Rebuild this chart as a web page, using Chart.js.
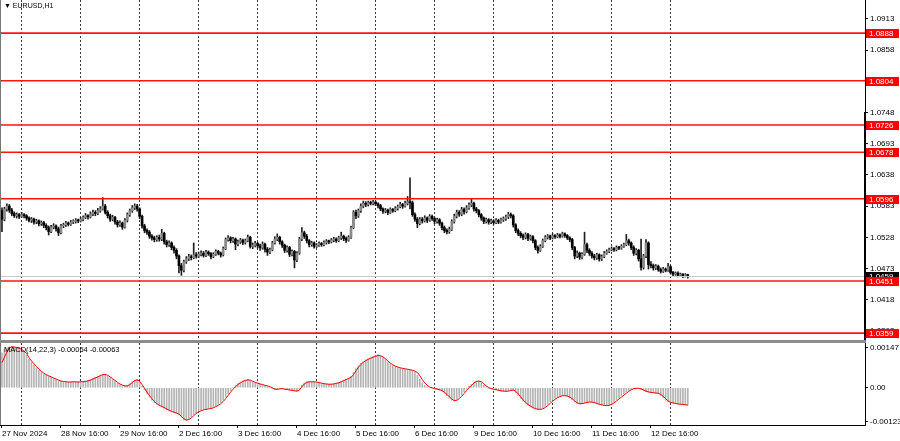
<!DOCTYPE html>
<html>
<head>
<meta charset="utf-8">
<title>EURUSD,H1</title>
<script src="https://cdn.jsdelivr.net/npm/chart.js@4.4.1/dist/chart.umd.min.js"></script>
<style>
  html, body { margin: 0; padding: 0; background: #fff; width: 900px; height: 441px; overflow: hidden; }
  #wrap { position: relative; width: 900px; height: 441px; }
  #mainChart { position: absolute; left: 0; top: 0; }
  #macdChart { position: absolute; left: 0; top: 343px; }
  #sep { position: absolute; left: 0; top: 340px; width: 866px; height: 3px; background: #8c8c8c; }
  .txt { position: absolute; font-family: 'Liberation Sans', Arial, sans-serif; color: #000; white-space: nowrap; }
  #title { left: 4px; top: 2px; font-size: 7px; }
  #macdTitle { left: 4px; top: 345px; font-size: 7.5px; }
</style>
</head>
<body>
<div id="wrap">
  <canvas id="mainChart" width="900" height="340"></canvas>
  <div id="sep"></div>
  <canvas id="macdChart" width="900" height="98"></canvas>
  <div id="title" class="txt">&#9660; EURUSD,H1</div>
  <div id="macdTitle" class="txt">MACD(14,22,3) -0.00064 -0.00063</div>
</div>
<script>
// EURUSD H1, 27 Nov 2024 - 12 Dec 2024 (280 bars)
const firstOpen = 1.0575;

const closes = [
  1.0560, 1.0578, 1.0583, 1.0576, 1.0570, 1.0566, 1.0568, 1.0565, 1.0568, 1.0566,
  1.0562, 1.0558, 1.0560, 1.0555, 1.0557, 1.0552, 1.0554, 1.0549, 1.0545, 1.0538,
  1.0546, 1.0548, 1.0543, 1.0536, 1.0548, 1.0550, 1.0553, 1.0551, 1.0555, 1.0556,
  1.0558, 1.0557, 1.0560, 1.0563, 1.0566, 1.0564, 1.0569, 1.0572, 1.0570, 1.0575,
  1.0578, 1.0583, 1.0572, 1.0566, 1.0560, 1.0563, 1.0555, 1.0550, 1.0553, 1.0546,
  1.0558, 1.0568, 1.0575, 1.0580, 1.0583, 1.0578, 1.0565, 1.0548, 1.0540, 1.0537,
  1.0530, 1.0527, 1.0524, 1.0528, 1.0525, 1.0535, 1.0520, 1.0515, 1.0518, 1.0510,
  1.0505, 1.0495, 1.0478, 1.0470, 1.0485, 1.0490, 1.0494, 1.0492, 1.0497, 1.0495,
  1.0498, 1.0500, 1.0496, 1.0502, 1.0499, 1.0494, 1.0498, 1.0503, 1.0500, 1.0497,
  1.0508, 1.0524, 1.0527, 1.0522, 1.0525, 1.0516, 1.0520, 1.0523, 1.0519, 1.0522,
  1.0528, 1.0512, 1.0514, 1.0517, 1.0513, 1.0510, 1.0516, 1.0507, 1.0502, 1.0506,
  1.0518, 1.0525, 1.0528, 1.0520, 1.0514, 1.0505, 1.0510, 1.0498, 1.0503, 1.0488,
  1.0500, 1.0525, 1.0536, 1.0530, 1.0522, 1.0515, 1.0518, 1.0512, 1.0514, 1.0517,
  1.0515, 1.0519, 1.0521, 1.0520, 1.0523, 1.0525, 1.0522, 1.0527, 1.0530, 1.0526,
  1.0523, 1.0528, 1.0545, 1.0572, 1.0566, 1.0575, 1.0583, 1.0588, 1.0586, 1.0589,
  1.0588, 1.0590, 1.0587, 1.0584, 1.0578, 1.0574, 1.0576, 1.0572, 1.0577, 1.0575,
  1.0579, 1.0582, 1.0586, 1.0583, 1.0588, 1.0591, 1.0589, 1.0568, 1.0560, 1.0552,
  1.0560, 1.0557, 1.0562, 1.0558, 1.0565, 1.0561, 1.0556, 1.0559, 1.0553, 1.0545,
  1.0540, 1.0538, 1.0542, 1.0556, 1.0565, 1.0572, 1.0569, 1.0577, 1.0573, 1.0580,
  1.0585, 1.0588, 1.0578, 1.0575, 1.0568, 1.0562, 1.0556, 1.0559, 1.0555, 1.0557,
  1.0554, 1.0558, 1.0555, 1.0559, 1.0561, 1.0564, 1.0568, 1.0566, 1.0550, 1.0540,
  1.0535, 1.0531, 1.0528, 1.0533, 1.0526, 1.0529, 1.0522, 1.0510, 1.0505, 1.0512,
  1.0522, 1.0528, 1.0530, 1.0527, 1.0531, 1.0529, 1.0532, 1.0530, 1.0534, 1.0531,
  1.0527, 1.0524, 1.0510, 1.0495, 1.0500, 1.0493, 1.0498, 1.0515, 1.0505, 1.0500,
  1.0495, 1.0492, 1.0497, 1.0490, 1.0494, 1.0500, 1.0503, 1.0506, 1.0508, 1.0506,
  1.0510, 1.0509, 1.0512, 1.0515, 1.0522, 1.0518, 1.0510, 1.0500, 1.0505, 1.0490,
  1.0475, 1.0495, 1.0518, 1.0480, 1.0478, 1.0474, 1.0477, 1.0471, 1.0468, 1.0472,
  1.0470, 1.0476, 1.0466, 1.0463, 1.0465, 1.0461, 1.0463, 1.0460, 1.0462, 1.0459
];

const highs = [
  1.0580, 1.0581, 1.0587, 1.0586, 1.0579, 1.0573, 1.0571, 1.0570, 1.0572, 1.0570,
  1.0568, 1.0564, 1.0563, 1.0562, 1.0560, 1.0559, 1.0557, 1.0556, 1.0552, 1.0548,
  1.0549, 1.0552, 1.0550, 1.0546, 1.0551, 1.0553, 1.0556, 1.0555, 1.0558, 1.0559,
  1.0561, 1.0560, 1.0563, 1.0566, 1.0570, 1.0568, 1.0573, 1.0576, 1.0575, 1.0579,
  1.0582, 1.0598, 1.0586, 1.0575, 1.0569, 1.0567, 1.0565, 1.0558, 1.0557, 1.0555,
  1.0561, 1.0571, 1.0578, 1.0584, 1.0587, 1.0586, 1.0580, 1.0567, 1.0551, 1.0543,
  1.0540, 1.0533, 1.0530, 1.0531, 1.0532, 1.0542, 1.0537, 1.0523, 1.0522, 1.0520,
  1.0513, 1.0508, 1.0497, 1.0482, 1.0488, 1.0494, 1.0498, 1.0497, 1.0518, 1.0501,
  1.0502, 1.0504, 1.0503, 1.0505, 1.0504, 1.0501, 1.0501, 1.0506, 1.0505, 1.0502,
  1.0511, 1.0527, 1.0531, 1.0529, 1.0528, 1.0527, 1.0523, 1.0526, 1.0525, 1.0525,
  1.0532, 1.0530, 1.0518, 1.0521, 1.0519, 1.0516, 1.0520, 1.0518, 1.0510, 1.0509,
  1.0521, 1.0529, 1.0534, 1.0530, 1.0522, 1.0516, 1.0513, 1.0512, 1.0506, 1.0505,
  1.0503, 1.0528, 1.0545, 1.0539, 1.0533, 1.0524, 1.0521, 1.0520, 1.0517, 1.0520,
  1.0519, 1.0522, 1.0524, 1.0523, 1.0526, 1.0528, 1.0527, 1.0530, 1.0537, 1.0532,
  1.0529, 1.0531, 1.0548, 1.0575, 1.0576, 1.0578, 1.0587, 1.0592, 1.0591, 1.0592,
  1.0592, 1.0593, 1.0592, 1.0589, 1.0586, 1.0580, 1.0579, 1.0578, 1.0580, 1.0579,
  1.0582, 1.0585, 1.0590, 1.0588, 1.0592, 1.0600, 1.0633, 1.0592, 1.0571, 1.0563,
  1.0563, 1.0563, 1.0566, 1.0564, 1.0568, 1.0567, 1.0563, 1.0562, 1.0561, 1.0555,
  1.0548, 1.0543, 1.0546, 1.0559, 1.0569, 1.0576, 1.0575, 1.0581, 1.0580, 1.0584,
  1.0589, 1.0596, 1.0590, 1.0581, 1.0577, 1.0570, 1.0564, 1.0562, 1.0561, 1.0560,
  1.0559, 1.0561, 1.0560, 1.0562, 1.0564, 1.0567, 1.0572, 1.0571, 1.0568, 1.0552,
  1.0543, 1.0538, 1.0534, 1.0536, 1.0535, 1.0532, 1.0531, 1.0524, 1.0513, 1.0515,
  1.0525, 1.0531, 1.0533, 1.0532, 1.0534, 1.0533, 1.0535, 1.0534, 1.0537, 1.0536,
  1.0533, 1.0529, 1.0526, 1.0512, 1.0504, 1.0502, 1.0501, 1.0537, 1.0518, 1.0508,
  1.0503, 1.0498, 1.0500, 1.0499, 1.0497, 1.0503, 1.0506, 1.0509, 1.0511, 1.0510,
  1.0513, 1.0512, 1.0515, 1.0518, 1.0533, 1.0525, 1.0520, 1.0513, 1.0508, 1.0507,
  1.0525, 1.0498, 1.0524, 1.0520, 1.0485, 1.0481, 1.0480, 1.0479, 1.0474, 1.0475,
  1.0474, 1.0482, 1.0478, 1.0468, 1.0467, 1.0467, 1.0465, 1.0464, 1.0464, 1.0463
];

const lows = [
  1.0538, 1.0557, 1.0574, 1.0572, 1.0566, 1.0563, 1.0562, 1.0561, 1.0563, 1.0562,
  1.0558, 1.0555, 1.0554, 1.0551, 1.0552, 1.0548, 1.0549, 1.0545, 1.0541, 1.0532,
  1.0536, 1.0543, 1.0539, 1.0531, 1.0534, 1.0545, 1.0547, 1.0548, 1.0549, 1.0552,
  1.0553, 1.0554, 1.0555, 1.0557, 1.0561, 1.0560, 1.0562, 1.0566, 1.0566, 1.0568,
  1.0572, 1.0576, 1.0569, 1.0562, 1.0556, 1.0557, 1.0551, 1.0546, 1.0547, 1.0542,
  1.0544, 1.0555, 1.0565, 1.0572, 1.0577, 1.0574, 1.0561, 1.0544, 1.0536, 1.0533,
  1.0526, 1.0523, 1.0520, 1.0521, 1.0521, 1.0522, 1.0516, 1.0511, 1.0512, 1.0506,
  1.0500, 1.0490, 1.0465, 1.0461, 1.0467, 1.0482, 1.0487, 1.0488, 1.0490, 1.0491,
  1.0492, 1.0495, 1.0493, 1.0494, 1.0496, 1.0490, 1.0492, 1.0496, 1.0497, 1.0493,
  1.0495, 1.0506, 1.0521, 1.0518, 1.0519, 1.0506, 1.0513, 1.0517, 1.0515, 1.0516,
  1.0520, 1.0509, 1.0508, 1.0511, 1.0509, 1.0505, 1.0507, 1.0502, 1.0496, 1.0499,
  1.0504, 1.0516, 1.0522, 1.0516, 1.0510, 1.0501, 1.0502, 1.0494, 1.0495, 1.0474,
  1.0485, 1.0498, 1.0522, 1.0526, 1.0518, 1.0511, 1.0512, 1.0509, 1.0510, 1.0512,
  1.0512, 1.0513, 1.0516, 1.0517, 1.0518, 1.0520, 1.0519, 1.0520, 1.0524, 1.0522,
  1.0519, 1.0521, 1.0526, 1.0543, 1.0561, 1.0563, 1.0572, 1.0580, 1.0582, 1.0583,
  1.0585, 1.0585, 1.0584, 1.0580, 1.0575, 1.0570, 1.0571, 1.0568, 1.0570, 1.0572,
  1.0573, 1.0576, 1.0580, 1.0579, 1.0581, 1.0585, 1.0578, 1.0565, 1.0556, 1.0545,
  1.0550, 1.0553, 1.0555, 1.0554, 1.0556, 1.0558, 1.0552, 1.0553, 1.0549, 1.0541,
  1.0536, 1.0534, 1.0535, 1.0540, 1.0553, 1.0562, 1.0565, 1.0566, 1.0569, 1.0571,
  1.0577, 1.0582, 1.0574, 1.0571, 1.0564, 1.0558, 1.0552, 1.0553, 1.0551, 1.0552,
  1.0551, 1.0552, 1.0552, 1.0553, 1.0556, 1.0558, 1.0561, 1.0562, 1.0546, 1.0536,
  1.0531, 1.0527, 1.0524, 1.0525, 1.0522, 1.0523, 1.0518, 1.0506, 1.0500, 1.0503,
  1.0510, 1.0520, 1.0525, 1.0524, 1.0525, 1.0526, 1.0527, 1.0527, 1.0528, 1.0528,
  1.0524, 1.0520, 1.0506, 1.0490, 1.0492, 1.0489, 1.0490, 1.0496, 1.0501, 1.0496,
  1.0491, 1.0488, 1.0489, 1.0486, 1.0487, 1.0492, 1.0498, 1.0501, 1.0504, 1.0503,
  1.0504, 1.0506, 1.0507, 1.0510, 1.0513, 1.0514, 1.0506, 1.0496, 1.0497, 1.0486,
  1.0470, 1.0472, 1.0492, 1.0472, 1.0474, 1.0470, 1.0471, 1.0468, 1.0465, 1.0466,
  1.0467, 1.0468, 1.0463, 1.0460, 1.0461, 1.0458, 1.0459, 1.0457, 1.0458, 1.0456
];

// MACD(14,22,3) main line and signal, in points (0.00001)
const macdPts = [
  128, 140, 146, 150, 151, 148, 146, 142, 137, 130,
  118, 104, 93, 83, 73, 64, 57, 51, 46, 42,
  38, 34, 30, 26, 24, 22, 21, 21, 22, 22,
  21, 22, 22, 23, 25, 27, 30, 34, 38, 42,
  46, 50, 48, 43, 37, 30, 24, 17, 12, 8,
  6, 9, 15, 22, 28, 30, 20, 6, -8, -22,
  -34, -45, -54, -61, -66, -70, -75, -80, -84, -88,
  -91, -94, -100, -108, -117, -120, -114, -106, -98, -91,
  -86, -82, -80, -78, -76, -75, -71, -66, -61, -54,
  -45, -34, -22, -10, 0, 8, 15, 21, 25, 28,
  30, 26, 22, 18, 15, 13, 10, 8, 5, 2,
  -3, -7, -5, -3, -4, -6, -7, -9, -10, -12,
  -13, -3, 10, 18, 22, 23, 22, 21, 20, 18,
  16, 14, 13, 13, 14, 15, 17, 20, 24, 28,
  32, 36, 42, 56, 70, 80, 89, 96, 102, 106,
  110, 114, 117, 120, 115, 109, 102, 94, 87, 81,
  77, 74, 72, 70, 68, 67, 65, 62, 57, 46,
  31, 18, 9, 4, 0, -2, -4, -6, -9, -13,
  -20, -29, -38, -45, -48, -43, -35, -26, -15, -5,
  5, 13, 21, 25, 24, 18, 10, 3, -2, -4,
  -6, -8, -10, -12, -13, -13, -11, -9, -11, -18,
  -28, -39, -49, -57, -64, -70, -74, -78, -79, -78,
  -74, -68, -60, -52, -45, -38, -34, -30, -28, -29,
  -32, -37, -44, -52, -57, -59, -57, -54, -52, -51,
  -53, -56, -59, -61, -63, -65, -65, -63, -58, -51,
  -44, -37, -30, -23, -16, -10, -5, -2, -1, -3,
  -6, -10, -14, -16, -18, -19, -20, -22, -28, -36,
  -45, -51, -54, -56, -58, -60, -61, -62, -63, -64
];

const signalPts = [
  92, 112, 130, 145, 150, 149, 147, 144, 140, 134,
  125, 110, 98, 88, 78, 68, 60, 54, 48, 44,
  40, 36, 32, 28, 25, 23, 22, 21, 21, 22,
  22, 21, 22, 22, 23, 25, 28, 32, 36, 40,
  44, 48, 49, 46, 40, 33, 27, 20, 14, 10,
  7, 7, 12, 19, 26, 29, 24, 12, -2, -16,
  -28, -40, -50, -58, -64, -68, -72, -77, -82, -86,
  -89, -92, -96, -104, -113, -118, -116, -110, -102, -94,
  -88, -84, -81, -79, -77, -76, -73, -69, -64, -58,
  -50, -40, -28, -16, -5, 4, 12, 18, 23, 27,
  29, 28, 24, 20, 17, 14, 12, 9, 7, 4,
  0, -5, -6, -4, -3, -5, -6, -8, -9, -11,
  -12, -8, 4, 14, 20, 22, 22, 22, 21, 19,
  17, 15, 14, 13, 13, 14, 16, 18, 22, 26,
  30, 34, 38, 48, 62, 75, 85, 93, 99, 104,
  108, 112, 115, 118, 117, 113, 106, 98, 90, 84,
  79, 76, 73, 71, 69, 68, 66, 64, 61, 56,
  44, 30, 18, 9, 3, 0, -3, -5, -7, -10,
  -16, -24, -33, -41, -47, -46, -40, -31, -21, -10,
  0, 9, 17, 23, 25, 22, 15, 7, 1, -3,
  -5, -7, -9, -11, -12, -13, -12, -10, -8, -13,
  -22, -33, -44, -53, -61, -67, -72, -76, -78, -79,
  -77, -72, -65, -57, -49, -42, -36, -32, -29, -29,
  -30, -34, -40, -48, -55, -58, -58, -56, -53, -52,
  -52, -54, -57, -60, -62, -64, -65, -64, -61, -55,
  -48, -41, -34, -27, -20, -13, -7, -3, -2, -2,
  -4, -8, -12, -15, -17, -18, -19, -20, -24, -31,
  -40, -48, -53, -55, -57, -59, -60, -61, -62, -63
];

// horizontal levels drawn on the chart
const levels = [1.0888, 1.0804, 1.0726, 1.0678, 1.0596, 1.0451, 1.0359];
const lastPrice = 1.0459;

// axis ticks
const priceTicks = [1.0913, 1.0858, 1.0803, 1.0748, 1.0693, 1.0638, 1.0583, 1.0528, 1.0473, 1.0418, 1.0363];
const macdTicks = [0.00147, 0, -0.00123];
const labelBars = [0, 24, 48, 72, 96, 120, 144, 168, 192, 216, 240, 264];
const timeLabels = ['27 Nov 2024', '28 Nov 16:00', '29 Nov 16:00', '2 Dec 16:00', '3 Dec 16:00', '4 Dec 16:00',
  '5 Dec 16:00', '6 Dec 16:00', '9 Dec 16:00', '10 Dec 16:00', '11 Dec 16:00', '12 Dec 16:00'];
const gridBars = [8, 32, 56, 80, 104, 128, 152, 176, 200, 224, 248, 272];

// view ranges
const xMin = -0.8, xMax = 351.1;
const priceMin = 1.03469, priceMax = 1.09465;
const macdMin = -0.001358, macdMax = 0.001635;

const FONT = { family: "'Liberation Sans', Arial, sans-serif", size: 8 };
const opens = [firstOpen].concat(closes.slice(0, -1));

// axes must not push the plot area in
function noPad(s) {
  s.paddingTop = 0; s.paddingBottom = 0; s.paddingLeft = 0; s.paddingRight = 0;
}

/**
 * Vertical dashed grid axis (no labels, no space)
 */
function gridAxis() {
  return {
    type: 'linear', position: 'bottom', min: xMin, max: xMax, offset: false,
    grid: { color: '#3a3a3a', lineWidth: 1, drawTicks: false, offset: false },
    border: { display: false, dash: [2, 2] },
    ticks: { display: false },
    afterBuildTicks: s => { s.ticks = gridBars.map(v => ({ value: v })); },
    afterFit: s => { s.height = 0; noPad(s); }
  };
}

// price levels + labels on the main chart
const levelsPlugin = {
  id: 'levels',
  afterDatasetsDraw(chart) {
    const { ctx, chartArea: a, scales: { y } } = chart;
    ctx.save();
    const bid = Math.round(y.getPixelForValue(lastPrice)) + 0.5;
    ctx.strokeStyle = '#c8c8c8';
    ctx.lineWidth = 1;
    ctx.beginPath(); ctx.moveTo(a.left, bid); ctx.lineTo(a.right, bid); ctx.stroke();
    ctx.strokeStyle = '#ff1414';
    ctx.lineWidth = 1.6;
    levels.forEach(v => {
      const p = y.getPixelForValue(v);
      ctx.beginPath(); ctx.moveTo(a.left, p); ctx.lineTo(a.right, p); ctx.stroke();
    });
    ctx.restore();
  },
  afterDraw(chart) {
    const { ctx, chartArea: a, scales: { y } } = chart;
    ctx.save();
    ctx.font = "8px 'Liberation Sans', Arial, sans-serif";
    ctx.textBaseline = 'middle';
    const tag = (v, bg) => {
      const p = Math.round(y.getPixelForValue(v));
      ctx.fillStyle = bg;
      ctx.fillRect(a.right + 1, p - 4, 33, 9);
      ctx.fillStyle = '#fff';
      ctx.fillText(v.toFixed(4), a.right + 4, p + 0.5);
    };
    tag(lastPrice, '#000');
    levels.forEach(v => tag(v, '#ff0000'));
    // heavy edge on the price scale
    ctx.fillStyle = '#000';
    ctx.fillRect(a.right - 1, 112, 2, a.bottom - 112);
    // left frame
    ctx.fillStyle = '#777';
    ctx.fillRect(0, 0, 1, a.bottom);
    ctx.restore();
  }
};

// left frame on macd
const framePlugin = {
  id: 'frame',
  afterDraw(chart) {
    const { ctx, chartArea: a } = chart;
    ctx.save();
    ctx.fillStyle = '#777';
    ctx.fillRect(0, a.top, 1, a.bottom - a.top);
    ctx.restore();
  }
};

/**
 * Main price chart
 */
const mainCtx = document.getElementById('mainChart').getContext('2d');
new Chart(mainCtx, {
  type: 'bar',
  data: {
    datasets: [
      {
        label: 'wick',
        data: closes.map((c, i) => ({ x: i, y: [lows[i], highs[i]] })),
        backgroundColor: '#1e1e1e',
        barThickness: 1,
        grouped: false,
        order: 2
      },
      {
        label: 'body',
        data: closes.map((c, i) => ({ x: i, y: [opens[i], c] })),
        backgroundColor: closes.map((c, i) => c >= opens[i] ? '#8a8a8a' : '#000000'),
        barThickness: 2,
        minBarLength: 1,
        grouped: false,
        order: 1
      }
    ]
  },
  options: {
    responsive: false,
    animation: false,
    devicePixelRatio: 1,
    layout: { padding: 0 },
    plugins: { legend: { display: false }, tooltip: { enabled: false } },
    scales: {
      x: gridAxis(),
      y: {
        position: 'right',
        min: priceMin,
        max: priceMax,
        grid: { drawOnChartArea: false, drawTicks: true, tickLength: 3, color: '#000' },
        border: { display: true, color: '#000', width: 1 },
        ticks: { font: FONT, color: '#000', padding: 2, autoSkip: false, callback: v => v.toFixed(4) },
        afterBuildTicks: s => { s.ticks = priceTicks.map(v => ({ value: v })); },
        afterFit: s => { s.width = 35; noPad(s); }
      }
    }
  },
  plugins: [levelsPlugin]
});

/**
 * MACD pane
 */
const macdCtx = document.getElementById('macdChart').getContext('2d');
new Chart(macdCtx, {
  type: 'bar',
  data: {
    datasets: [
      {
        type: 'line',
        label: 'Signal',
        data: signalPts.map((v, i) => ({ x: i, y: v / 100000 })),
        borderColor: '#ff0000',
        borderWidth: 1,
        pointRadius: 0,
        tension: 0,
        order: 1
      },
      {
        label: 'MACD',
        data: macdPts.map((v, i) => ({ x: i, y: v / 100000 })),
        backgroundColor: '#b4b4b4',
        barThickness: 1,
        grouped: false,
        order: 2
      }
    ]
  },
  options: {
    responsive: false,
    animation: false,
    devicePixelRatio: 1,
    layout: { padding: 0 },
    plugins: { legend: { display: false }, tooltip: { enabled: false } },
    scales: {
      xg: gridAxis(),
      x: {
        type: 'linear', position: 'bottom', min: xMin, max: xMax, offset: false,
        grid: { drawOnChartArea: false, drawTicks: true, tickLength: 3, color: '#000', offset: false },
        border: { display: true, color: '#000', width: 1 },
        ticks: {
          font: FONT, color: '#000', padding: 1, align: 'start', autoSkip: false, maxRotation: 0, minRotation: 0,
          callback: (v, i) => timeLabels[i]
        },
        afterBuildTicks: s => { s.ticks = labelBars.map(v => ({ value: v })); },
        afterFit: s => { s.height = 16; noPad(s); }
      },
      y: {
        position: 'right',
        min: macdMin,
        max: macdMax,
        grid: { drawOnChartArea: false, drawTicks: true, tickLength: 3, color: '#000' },
        border: { display: true, color: '#000', width: 1 },
        ticks: { font: FONT, color: '#000', padding: 2, autoSkip: false, callback: v => v === 0 ? '0.00' : v.toFixed(5) },
        afterBuildTicks: s => { s.ticks = macdTicks.map(v => ({ value: v })); },
        afterFit: s => { s.width = 35; noPad(s); }
      }
    }
  },
  plugins: [framePlugin]
});
</script>
</body>
</html>
